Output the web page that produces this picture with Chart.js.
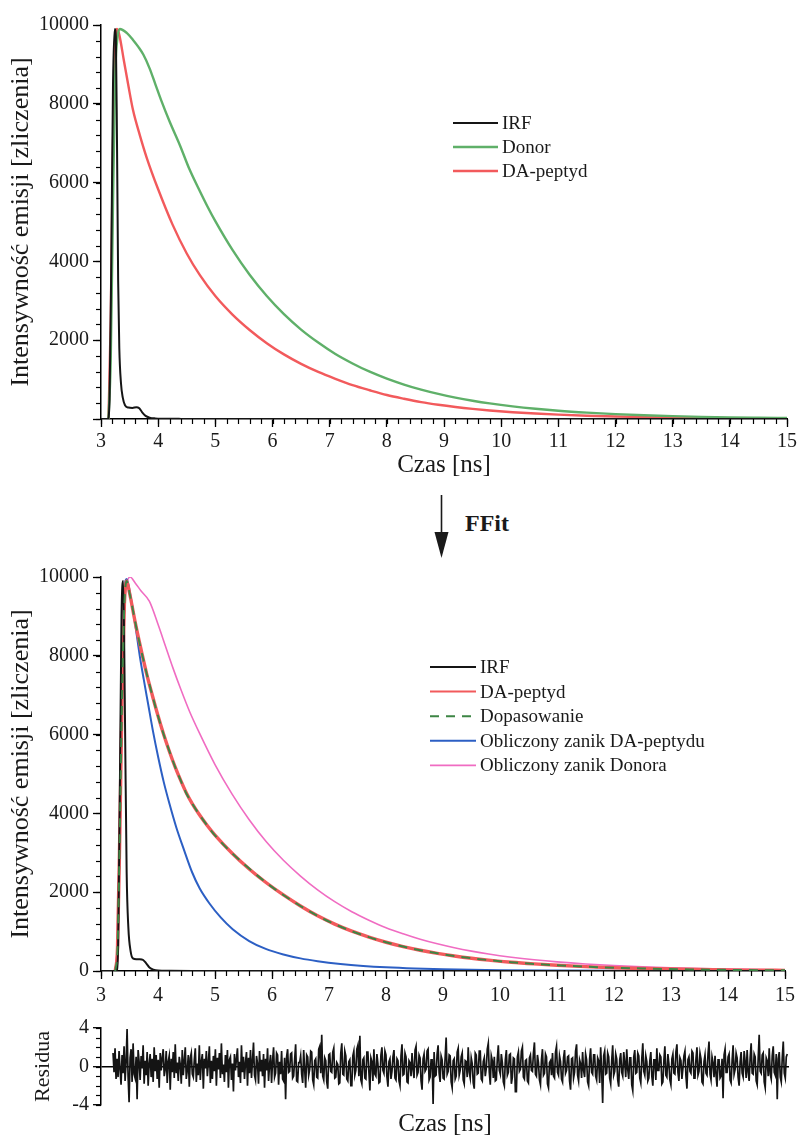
<!DOCTYPE html>
<html>
<head>
<meta charset="utf-8">
<script src="https://cdn.jsdelivr.net/npm/chart.js@4.4.1/dist/chart.umd.min.js"></script>
<style>
  body { margin: 0; background: #fff; }
  #page { position: relative; width: 800px; height: 1137px; overflow: hidden; background: #fff; }
  canvas { position: absolute; left: 0; }
  #ffit { position: absolute; left: 465px; top: 510px; font: bold 24px "Liberation Serif", serif; color: #1a1a1a; }
  #arrow { position: absolute; left: 430px; top: 490px; }
</style>
</head>
<body>
<div id="page">
  <canvas id="decayChart" width="800" height="480" style="top:0"></canvas>
  <svg id="arrow" width="24" height="72">
    <line x1="11.5" y1="5" x2="11.5" y2="48" stroke="#1a1a1a" stroke-width="1.6"/>
    <polygon points="4.5,42 18.5,42 11.5,68" fill="#1a1a1a"/>
  </svg>
  <div id="ffit">FFit</div>
  <canvas id="fitChart" width="800" height="465" style="top:540px"></canvas>
  <canvas id="resChart" width="800" height="132" style="top:1005px"></canvas>
</div>
<script>
// top panel: measured decays
var irfTopT = [3.0, 3.12, 3.15, 3.18, 3.21, 3.24, 3.26, 3.28, 3.30, 3.32, 3.35, 3.38, 3.42, 3.48, 3.55, 3.62, 3.67, 3.72, 3.78, 3.85, 3.95, 4.1, 4.4, 5.0, 15.0];
var irfTopV = [0, 0, 500, 4000, 8500, 9900, 9700, 7000, 3500, 1800, 900, 550, 350, 290, 280, 300, 270, 170, 80, 35, 15, 8, 3, 0, 0];

var donorT = [3.13, 3.17, 3.21, 3.25, 3.29, 3.33, 3.45, 3.56, 3.65, 3.74, 3.85, 3.95, 4.05, 4.2, 4.38, 4.55, 4.73, 4.86, 5.0, 5.3, 5.6, 5.9, 6.2, 6.5, 6.8, 7.1, 7.4, 7.7, 8.0, 8.3, 8.6, 8.9, 9.2, 9.5, 9.8, 10.2, 10.6, 11.0, 11.5, 12.0, 12.5, 13.0, 13.5, 14.0, 14.5, 15.0];
var donorV = [0, 1500, 5500, 8800, 9700, 9900, 9800, 9620, 9450, 9250, 8900, 8500, 8100, 7550, 6950, 6330, 5780, 5400, 5020, 4290, 3660, 3120, 2660, 2270, 1940, 1650, 1410, 1200, 1025, 875, 745, 636, 542, 463, 395, 320, 259, 209, 161, 123, 94, 72, 55, 42, 33, 25];

var daTopT = [3.13, 3.17, 3.21, 3.25, 3.28, 3.32, 3.4, 3.48, 3.56, 3.68, 3.8, 4.0, 4.25, 4.5, 4.73, 5.0, 5.3, 5.6, 5.9, 6.2, 6.5, 6.8, 7.1, 7.4, 7.7, 8.0, 8.3, 8.6, 8.9, 9.2, 9.5, 9.8, 10.2, 10.6, 11.0, 11.5, 12.0, 12.5, 13.0, 13.5, 14.0, 14.5, 15.0];
var daTopV = [0, 2500, 7000, 9500, 9900, 9750, 9100, 8450, 7840, 7200, 6630, 5830, 4940, 4200, 3650, 3120, 2650, 2260, 1925, 1640, 1400, 1195, 1020, 860, 730, 610, 515, 430, 362, 305, 257, 217, 172, 138, 111, 84, 63, 48, 37, 27, 20, 15, 11];

// bottom panel: fit result
var irfBotT = [3.0, 3.27, 3.30, 3.33, 3.36, 3.39, 3.42, 3.45, 3.48, 3.52, 3.56, 3.62, 3.68, 3.74, 3.79, 3.85, 3.92, 4.0, 4.2, 4.6, 15.0];
var irfBotV = [0, 0, 600, 4500, 9000, 9900, 6500, 2500, 1100, 500, 320, 300, 300, 280, 200, 90, 35, 12, 4, 0, 0];

var daBotT = [3.25, 3.29, 3.33, 3.37, 3.41, 3.45, 3.5, 3.6, 3.68, 3.8, 3.9, 4.0, 4.1, 4.2, 4.3, 4.4, 4.5, 4.6, 4.73, 4.86, 5.0, 5.3, 5.6, 5.9, 6.2, 6.5, 6.8, 7.1, 7.4, 7.7, 8.0, 8.3, 8.6, 8.9, 9.2, 9.5, 9.8, 10.2, 10.6, 11.0, 11.5, 12.0, 12.5, 13.0, 13.5, 14.0, 14.5, 15.0];
var daBotV = [0, 600, 3500, 7000, 9300, 9900, 9600, 8850, 8310, 7550, 7000, 6480, 6000, 5570, 5180, 4830, 4510, 4250, 3960, 3700, 3450, 2990, 2590, 2240, 1930, 1650, 1400, 1190, 1010, 860, 730, 620, 527, 448, 381, 324, 276, 222, 180, 145, 110, 84, 64, 49, 37, 28, 22, 17];
var fitV = [0, 600, 3500, 7000, 9300, 9900, 9600, 8860, 8300, 7560, 7000, 6470, 6000, 5580, 5180, 4830, 4500, 4250, 3960, 3700, 3440, 2990, 2600, 2240, 1930, 1650, 1400, 1190, 1010, 860, 730, 620, 527, 448, 381, 324, 276, 222, 180, 145, 110, 84, 64, 49, 37, 28, 22, 17];

var daCalcT = [3.25, 3.29, 3.33, 3.37, 3.41, 3.45, 3.52, 3.6, 3.68, 3.75, 3.83, 3.91, 4.0, 4.1, 4.2, 4.32, 4.45, 4.6, 4.73, 4.9, 5.1, 5.31, 5.6, 5.89, 6.2, 6.5, 6.8, 7.2, 7.6, 8.0, 8.5, 9.0, 10.0, 11.0, 12.0, 13.5, 15.0];
var daCalcV = [0, 700, 3800, 7500, 9600, 9950, 9500, 8800, 8000, 7400, 6750, 6100, 5450, 4800, 4250, 3650, 3100, 2500, 2100, 1720, 1360, 1060, 760, 560, 420, 320, 250, 180, 130, 95, 65, 45, 22, 12, 6, 3, 0];

var donorCalcT = [3.25, 3.29, 3.33, 3.37, 3.41, 3.45, 3.51, 3.6, 3.7, 3.85, 4.0, 4.13, 4.26, 4.4, 4.55, 4.73, 5.0, 5.3, 5.6, 5.9, 6.2, 6.5, 6.8, 7.1, 7.4, 7.7, 8.0, 8.3, 8.6, 8.9, 9.2, 9.5, 9.8, 10.2, 10.6, 11.0, 11.5, 12.0, 12.5, 13.0, 13.5, 14.0, 14.5, 15.0];
var donorCalcV = [0, 500, 3200, 6800, 9200, 9800, 10000, 9850, 9650, 9380, 8800, 8250, 7700, 7150, 6600, 6030, 5240, 4490, 3840, 3280, 2810, 2410, 2060, 1760, 1505, 1290, 1100, 945, 806, 690, 590, 505, 432, 351, 285, 231, 178, 138, 106, 82, 63, 49, 37, 29];

// residuals, one value per channel
var resStart = 3.21;
var resStep = 0.0175;
var resV = [
  1.4, -0.6, 1.9, -1.3, 0.8, -1.1, 1.6, -0.3, -1.9, 1.2, -0.7, 2.1, -1.5, 0.4, 3.9, -1.0, -3.7, 0.9, 1.8, -1.6,
  2.4, -0.8, -1.2, 1.0, -3.4, 1.7, 0.5, -1.4, 1.1, -0.2, 2.2, -1.8, 0.6, -0.9, 1.5, -2.0, 0.3, 1.3, -1.1, 0.8,
  -1.6, 2.0, -0.5, 1.2, -1.3, 0.7, -2.2, 1.4, -0.4, 0.9, 1.8, -1.0, -0.3, 1.6, -1.7, 0.5, 1.1, -2.4, 0.8, -0.6,
  1.5, -1.2, 2.3, -0.7, 0.4, -1.5, 1.0, 0.2, -1.8, 1.7, -0.9, 0.6, 2.0, -1.3, -0.4, 1.2, -2.1, 0.9, 1.4, -0.8,
  -1.1, 0.7, 1.9, -1.6, 0.3, -0.9, 2.2, -1.4, 0.5, 1.3, -2.3, 0.8, -0.2, 1.6, -1.0, 0.4, 2.1, -1.7, 0.6, -1.3,
  1.1, -0.5, 1.8, -2.0, 0.9, -0.3, 1.4, -1.2, 2.4, -0.8, 0.2, -1.6, 1.2, -0.6, 1.7, -2.2, 0.7, 1.0, -1.4, 0.3,
  -2.6, 1.3, -0.4, 0.8, 1.9, -1.1, 0.5, -1.7, 2.2, -0.6, 1.0, -1.3, 0.4, 1.5, -2.0, 0.9, -0.7, 1.7, -1.2, 0.6,
  2.5, -0.9, -1.4, 1.1, 0.3, -1.8, 1.6, -0.5, 0.7, -1.0, 1.3, -2.2, 0.8, -0.4, 1.9, -1.5, 0.2, 1.2, -1.7, 0.6,
  2.0, -1.1, -0.7, 1.4, 1.2, -1.9, 0.5, -0.8, 1.6, -1.3, -1.5, 0.9, -3.4, 1.0, 1.8, -0.6, -0.5, 1.3, 1.4, -1.2,
  -1.0, 0.7, 2.3, -1.5, -1.6, 0.4, 0.4, 1.1, -0.8, -1.7, 1.7, -0.3, -2.2, 1.2, 1.0, -0.9, -0.3, 1.6, 1.5, -1.4,
  -1.9, 0.6, 0.8, -1.1, -1.2, 1.8, 2.1, -0.7, 3.3, -1.0, -1.4, 0.9, 0.6, -1.6, -2.3, 1.2, 1.3, -0.5, -0.6, 1.5,
  1.9, -1.2, -1.1, 0.4, 0.2, -1.8, -1.7, 1.4, 2.4, -0.8, -0.9, 1.6, 1.1, -1.3, -1.5, 0.5, 0.7, -2.0, -2.0, 1.1,
  1.6, -0.9, -0.4, 1.8, 2.2, -1.0, 3.2, -1.4, -1.8, 0.7, 0.9, -1.2, -1.3, 1.5, 1.5, -0.6, -2.5, 0.9, 0.5, -1.5,
  1.8, -0.8, -1.0, 1.3, 0.3, -1.7, -1.6, 1.2, 2.0, -0.4, -0.7, 1.6, 1.2, -1.1, -2.1, 0.5, 0.8, -1.3, -0.5, 1.0,
  1.7, -1.2, -1.4, 0.8, 0.6, -1.5, -2.0, 1.1, 2.3, -0.9, -0.8, 1.4, 1.0, -1.6, -1.7, 0.6, 0.4, -1.0, 1.4, -0.3,
  -1.2, 1.7, 2.1, -0.9, -0.6, 1.2, 0.9, -1.5, -2.4, 0.8, 1.3, -0.5, -0.3, 1.6, 1.8, -1.4, -1.1, 0.7, 0.7, -3.9,
  1.5, -1.0, -0.9, 1.3, 2.2, -0.7, -1.6, 1.1, 0.7, -1.2, -1.3, 0.9, 3.0, -0.8, -0.5, 1.2, 1.1, -1.6, -2.2, 0.6,
  0.8, -1.3, -1.0, 1.5, 1.9, -0.9, -0.4, 1.0, 1.4, -1.4, -1.8, 0.6, 0.5, -1.1, 2.0, -0.6, -1.2, 0.9, 0.3, -1.7,
  -2.3, 1.4, 1.2, -0.8, -0.7, 1.6, 1.6, -1.3, -1.5, 0.5, 0.9, -1.0, -0.2, 1.8, 2.4, -0.6, -1.9, 1.1, 0.6, -1.2,
  1.0, -1.5, -1.4, 0.8, 2.2, -0.4, -0.8, 1.3, 0.4, -1.6, -2.0, 0.7, 1.7, -0.9, -0.6, 1.2, 1.3, -1.8, -1.1, 0.9,
  0.8, -2.6, -2.6, 1.0, 1.5, -0.5, -0.3, 1.6, 2.0, -1.1, -1.3, 0.6, 0.7, -1.5, -1.7, 0.9, 1.2, -0.4, -0.5, 1.4,
  2.5, -0.8, -1.0, 1.2, 0.4, -1.4, -1.9, 0.7, 1.8, -0.9, -0.7, 1.3, 1.0, -1.8, -2.2, 0.4, 0.6, -0.9, 1.4, -1.0,
  -1.2, 1.5, 2.1, -0.6, -0.9, 1.1, 0.5, -1.3, -1.6, 0.9, 1.7, -0.7, -0.4, 1.0, 1.1, -1.5, -2.4, 0.8, 0.9, -1.2,
  -0.6, 1.6, 2.3, -0.9, -1.5, 0.7, 0.3, -1.2, 1.5, -0.4, -1.1, 1.3, 0.7, -1.6, -2.0, 0.8, 1.9, -0.6, -0.8, 1.2,
  1.2, -1.0, -1.4, 0.9, 0.6, -1.7, 2.0, -0.5, -3.8, 1.1, 1.6, -0.8, -0.7, 1.4, 1.0, -1.2, -1.8, 0.6, 2.2, -0.9,
  -0.5, 1.3, 0.8, -1.4, -2.1, 0.7, 1.4, -0.6, -1.0, 1.5, 0.4, -1.1, 1.8, -0.3, -1.3, 0.9, 0.9, -1.9, -2.5, 1.0,
  1.7, -0.7, -0.6, 1.4, 1.1, -1.2, -1.7, 0.8, 2.4, -0.5, -0.9, 1.1, 0.5, -1.5, -1.2, 0.6, 1.5, -1.0, -2.0, 0.7,
  0.7, -1.4, 1.9, -0.4, -0.4, 1.2, 1.0, -1.8, -1.6, 0.6, 2.1, -0.9, -1.1, 1.3, 0.3, -1.4, -1.9, 0.8, 1.3, -0.7,
  -0.8, 1.5, 2.3, -0.6, -1.5, 0.9, 0.6, -1.3, -0.2, 1.1, 1.6, -1.0, -2.3, 0.7, 1.0, -0.5, -0.7, 1.6, 1.4, -1.2,
  -1.2, 0.8, 2.0, -0.9, -0.5, 1.4, 0.8, -1.6, -1.8, 0.5, 1.2, -0.7, -0.9, 1.3, 2.6, -0.8, -1.4, 1.0, 0.4, -1.1,
  1.1, -0.9, -2.1, 0.7, 0.7, -1.2, -1.0, 0.8, -3.3, 1.2, 1.8, -0.6, -0.6, 1.0, 1.3, -1.4, -1.7, 0.6, 2.2, -0.8,
  -0.3, 1.4, 0.9, -1.1, -2.0, 0.5, 1.5, -0.7, -1.1, 1.6, 0.5, -1.2, 1.7, -0.6, -1.5, 0.9, 2.4, -0.7, -0.8, 1.3,
  1.0, -1.5, -1.9, 0.8, 3.3, -0.5, -0.7, 1.2, 1.4, -1.6, -2.2, 0.9, 0.6, -1.0, 1.9, -0.8, -1.3, 1.1, 2.1, -0.6,
  -0.9, 1.3, -3.4, 0.8, 1.5, -1.1, -1.6, 0.9, 2.6, -0.7, -1.2, 1.0, 1.3
];

var xTicks = [3, 15];
var yTicks = [0, 10000];
var resTicks = [-4, 4];

Chart.defaults.font.family = '"Liberation Serif", "Times New Roman", serif';
Chart.defaults.color = '#1a1a1a';

function xy(t, v) {
  return t.map(function (x, i) { return { x: x, y: v[i] }; });
}

// short ticks between the labelled ones
var minorTicks = {
  id: 'minorTicks',
  afterDraw: function (chart, args, opts) {
    var ctx = chart.ctx;
    ctx.save();
    ctx.strokeStyle = '#000';
    ctx.lineWidth = 1.2;
    (opts.axes || []).forEach(function (a) {
      var s = chart.scales[a.id];
      var n = Math.round((s.max - s.min) / a.step);
      for (var k = 0; k <= n; k++) {
        var p = Math.round(s.getPixelForValue(s.min + k * a.step)) + 0.5;
        ctx.beginPath();
        if (s.isHorizontal()) {
          ctx.moveTo(p, s.top);
          ctx.lineTo(p, s.top + a.len);
        } else {
          ctx.moveTo(s.right - a.len, p);
          ctx.lineTo(s.right, p);
        }
        ctx.stroke();
      }
    });
    ctx.restore();
  }
};

// legend drawn inside the plot, like the original
var lineLegend = {
  id: 'lineLegend',
  afterDraw: function (chart, args, opts) {
    if (!opts || !opts.show) return;
    var ctx = chart.ctx;
    ctx.save();
    ctx.font = '19px "Liberation Serif", serif';
    ctx.textBaseline = 'middle';
    chart.data.datasets.forEach(function (ds, i) {
      var y = opts.y + i * opts.gap;
      ctx.beginPath();
      ctx.strokeStyle = ds.borderColor;
      ctx.lineWidth = ds.legendWidth || 2;
      ctx.setLineDash(ds.borderDash || []);
      ctx.moveTo(opts.x, y);
      ctx.lineTo(opts.x + opts.len, y);
      ctx.stroke();
      ctx.setLineDash([]);
      ctx.fillStyle = '#1a1a1a';
      ctx.fillText(ds.label, opts.x + opts.len + 4, y + 1);
    });
    ctx.restore();
  }
};

function axisBase() {
  return {
    border: { display: true, color: '#000', width: 1.5 },
    grid: { display: true, drawOnChartArea: false, drawTicks: true, tickLength: 8, tickColor: '#000', tickWidth: 1.3 }
  };
}

function xAxis(height, showTitle, labelPad) {
  var a = axisBase();
  a.type = 'linear';
  a.min = xTicks[0];
  a.max = xTicks[1];
  a.ticks = { stepSize: 1, padding: labelPad, font: { size: 20 }, color: '#1a1a1a', maxRotation: 0,
    callback: function (v) { return String(v); } };
  a.title = { display: showTitle, text: 'Czas [ns]', font: { size: 25 }, padding: { top: 2, bottom: 0 }, color: '#1a1a1a' };
  a.afterFit = function (s) { s.height = height; };
  return a;
}

function yAxis(showZero) {
  var a = axisBase();
  a.min = yTicks[0];
  a.max = yTicks[1];
  a.ticks = { stepSize: 2000, padding: 4, font: { size: 20 }, color: '#1a1a1a',
    callback: function (v) { return (v === 0 && !showZero) ? '' : String(v); } };
  a.title = { display: true, text: 'Intensywność emisji [zliczenia]', font: { size: 26 }, padding: { top: 6, bottom: 0 }, color: '#1a1a1a' };
  a.afterFit = function (s) { s.width = 101; };
  return a;
}

var lineBase = { pointRadius: 0, fill: false, cubicInterpolationMode: 'monotone', tension: 0.3 };

function ds(label, t, v, color, width, extra) {
  return Object.assign({}, lineBase, { label: label, data: xy(t, v), borderColor: color, borderWidth: width, legendWidth: width }, extra || {});
}

new Chart(document.getElementById('decayChart'), {
  type: 'line',
  data: {
    datasets: [
      ds('IRF', irfTopT, irfTopV, '#151515', 2),
      ds('Donor', donorT, donorV, '#5fb069', 2.4),
      ds('DA-peptyd', daTopT, daTopV, '#f25a5c', 2.4)
    ]
  },
  options: {
    responsive: false, animation: false, devicePixelRatio: 1,
    layout: { padding: { top: 25, right: 11, left: 0, bottom: 0 } },
    scales: { x: xAxis(61, true, 3), y: yAxis(false) },
    plugins: {
      legend: { display: false }, tooltip: { enabled: false },
      minorTicks: { axes: [{ id: 'x', step: 0.2, len: 5 }, { id: 'y', step: 400, len: 5 }] },
      lineLegend: { show: true, x: 453, y: 123, gap: 24, len: 45 }
    }
  },
  plugins: [minorTicks, lineLegend]
});

new Chart(document.getElementById('fitChart'), {
  type: 'line',
  data: {
    datasets: [
      ds('IRF', irfBotT, irfBotV, '#151515', 2, { order: 1 }),
      ds('DA-peptyd', daBotT, daBotV, '#f25a5c', 3.4, { order: 2, legendWidth: 2 }),
      ds('Dopasowanie', daBotT, fitV, '#3d8544', 2, { order: 0, borderDash: [9, 7] }),
      ds('Obliczony zanik DA-peptydu', daCalcT, daCalcV, '#2c5fc4', 2, { order: 3 }),
      ds('Obliczony zanik Donora', donorCalcT, donorCalcV, '#f06cc2', 1.6, { order: 4 })
    ]
  },
  options: {
    responsive: false, animation: false, devicePixelRatio: 1,
    layout: { padding: { top: 37, right: 11, left: 0, bottom: 0 } },
    scales: { x: xAxis(34, false, 5), y: yAxis(true) },
    plugins: {
      legend: { display: false }, tooltip: { enabled: false },
      minorTicks: { axes: [{ id: 'x', step: 0.2, len: 5 }, { id: 'y', step: 400, len: 5 }] },
      lineLegend: { show: true, x: 430, y: 127, gap: 24.6, len: 46 }
    }
  },
  plugins: [minorTicks, lineLegend]
});

var resData = resV.map(function (v, i) { return { x: +(resStart + i * resStep).toFixed(4), y: v }; });

new Chart(document.getElementById('resChart'), {
  type: 'line',
  data: {
    datasets: [{ label: 'Residua', data: resData, borderColor: '#141414', borderWidth: 1.7, pointRadius: 0, fill: false, tension: 0 }]
  },
  options: {
    responsive: false, animation: false, devicePixelRatio: 1,
    layout: { padding: { top: 23, right: 11, left: 0, bottom: 0 } },
    scales: {
      x: {
        type: 'linear', min: xTicks[0], max: xTicks[1],
        border: { display: false }, grid: { display: false }, ticks: { display: false },
        title: { display: true, text: 'Czas [ns]', font: { size: 25, lineHeight: 1 }, padding: 0, color: '#1a1a1a' },
        afterFit: function (s) { s.height = 32; }
      },
      y: {
        min: resTicks[0], max: resTicks[1],
        border: { display: true, color: '#000', width: 1.5 },
        grid: {
          display: true, drawOnChartArea: true, drawTicks: true, tickLength: 8, tickWidth: 1.3,
          tickColor: '#000',
          color: function (c) { return c.tick && c.tick.value === 0 ? '#000' : 'rgba(0,0,0,0)'; },
          lineWidth: 1.4
        },
        ticks: { stepSize: 4, padding: 4, font: { size: 20 }, color: '#1a1a1a', callback: function (v) { return String(v); } },
        title: { display: true, text: 'Residua', font: { size: 22 }, padding: { top: 30, bottom: 0 }, color: '#1a1a1a' },
        afterFit: function (s) { s.width = 101; }
      }
    },
    plugins: {
      legend: { display: false }, tooltip: { enabled: false },
      minorTicks: { axes: [{ id: 'y', step: 1, len: 5 }] }
    }
  },
  plugins: [minorTicks]
});
</script>
</body>
</html>
